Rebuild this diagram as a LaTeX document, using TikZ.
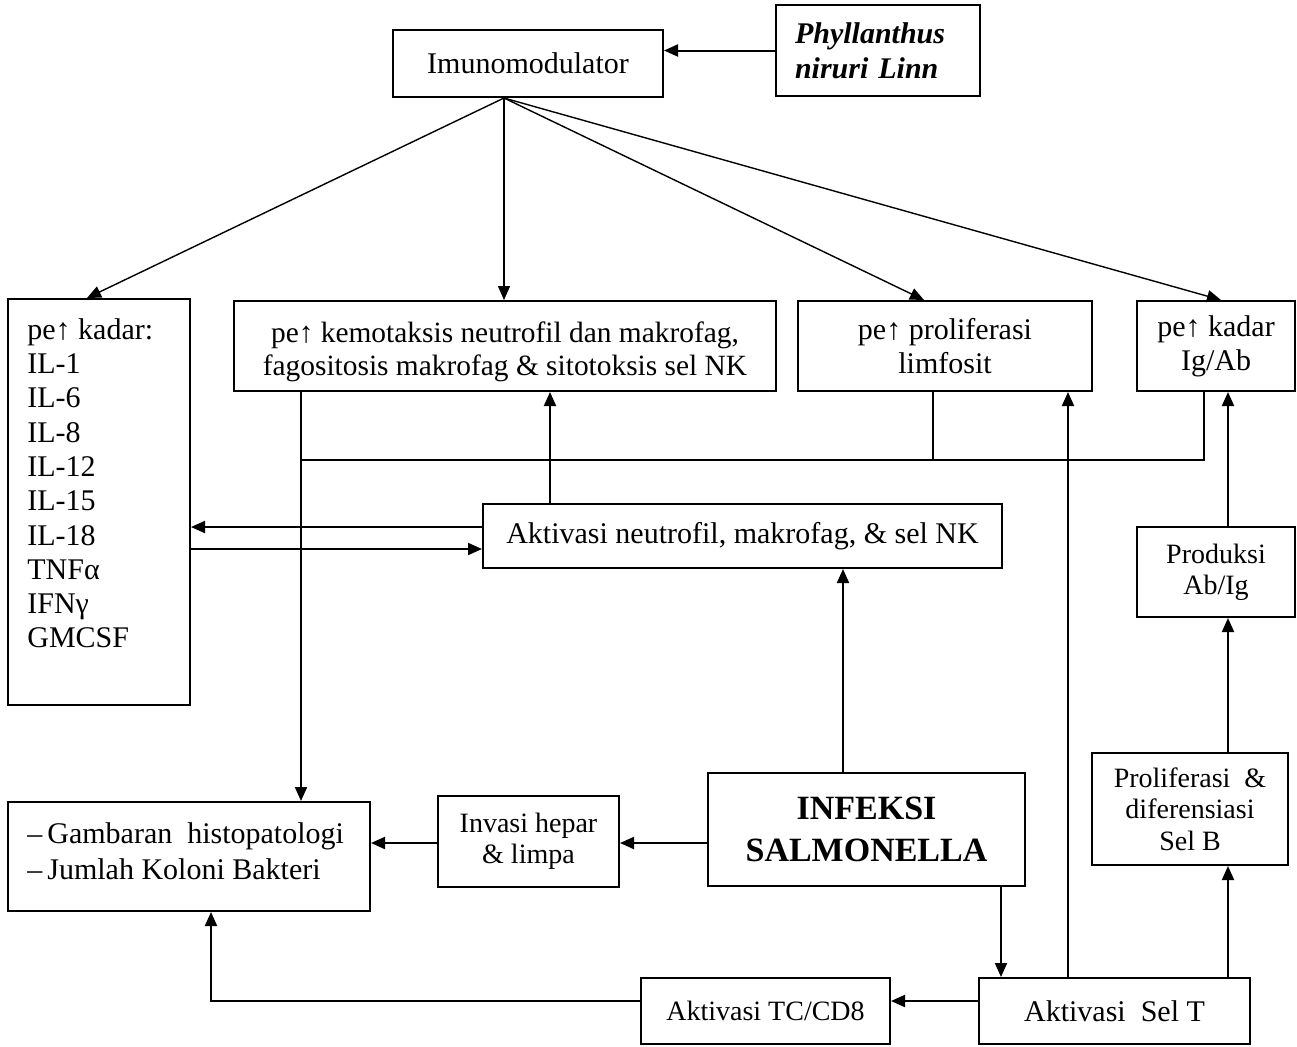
\documentclass[tikz,border=0pt]{standalone}
\usepackage{fontspec}
\setmainfont{Liberation Serif}
\usetikzlibrary{arrows.meta,calc}
\begin{document}
\begin{tikzpicture}[x=0.5pt,y=-0.5pt,
  box/.style={draw, line width=1pt, inner sep=0pt, align=center, font=\fontsize{15}{17}\selectfont},
  small/.style={font=\fontsize{14}{15.7}\selectfont},
  txt/.style={inner sep=0pt, align=left, font=\fontsize{15}{17}\selectfont},
  arr/.style={line width=1pt, -{Triangle[length=7pt,width=6pt]}},
  fanarr/.style={line width=0.7pt, -{Triangle[length=7pt,width=6pt]}},
  ln/.style={line width=1pt}]
\useasboundingbox (0,0) rectangle (1297,1046);

% boxes
\node[box, minimum width=135pt, minimum height=33.5pt] (imun) at (528,63.5) {Imunomodulator};
\node[box, minimum width=102pt, minimum height=45.5pt, align=left, text width=83pt,
      font=\fontsize{15}{17.5}\selectfont\bfseries\itshape] (phyl) at (878,50.5) {\mbox{Phyllanthus}\\\mbox{niruri Linn}};
\node[box, minimum width=91pt, minimum height=203pt] (kad) at (99,502) {};
\node[txt, anchor=north west, font=\fontsize{15}{17.15}\selectfont] (kadt) at ($(kad.north west)+(20,20)$)
  {pe↑ kadar:\\IL-1\\IL-6\\IL-8\\IL-12\\IL-15\\IL-18\\TNFα\\IFNγ\\GMCSF};
\node[box, minimum width=271pt, minimum height=45pt] (kemo) at (505,346) {};
\node[inner sep=0pt, align=center, font=\fontsize{14.7}{16.3}\selectfont] (kemot) at ($(kemo.center)+(0,6)$)
  {pe↑ kemotaksis neutrofil dan makrofag,\\fagositosis makrofag \& sitotoksis sel NK};
\node[box, minimum width=147pt, minimum height=45pt] (limf) at (945,346) {pe↑ proliferasi\\limfosit};
\node[box, minimum width=79pt, minimum height=45pt] (igab) at (1216,346) {pe↑ kadar\\Ig/Ab};
\node[box, minimum width=259.5pt, minimum height=32pt] (aktn) at (742.5,536) {Aktivasi neutrofil, makrofag, \& sel NK};
\node[box, small, minimum width=79pt, minimum height=45pt] (prod) at (1216,572) {Produksi\\Ab/Ig};
\node[box, small, minimum width=98pt, minimum height=56pt] (prol) at (1190,809) {Proliferasi~ \&\\diferensiasi\\Sel B};
\node[box, minimum width=181pt, minimum height=54.5pt] (gamb) at (189,856.5) {};
\node[txt, anchor=west, font=\fontsize{15}{18}\selectfont] (gambt) at ($(gamb.west)+(20,-5)$)
  {–\,Gambaran~ histopatologi\\–\,Jumlah Koloni Bakteri};
\node[box, small, minimum width=90.5pt, minimum height=45.5pt] (inv) at (528.5,841.5) {Invasi hepar\\\& limpa};
\node[box, minimum width=158.5pt, minimum height=56.5pt, font=\fontsize{17}{21}\selectfont\bfseries] (inf) at (866.5,829.5) {INFEKSI\\SALMONELLA};
\node[box, small, minimum width=124.5pt, minimum height=33pt] (tc) at (765.5,1011) {Aktivasi TC/CD8};
\node[box, minimum width=135.5pt, minimum height=33pt] (selt) at (1114.5,1011) {Aktivasi~ Sel T};

% connectors
\draw[arr] (phyl.west) -- (phyl.west -| imun.east);
\coordinate (fan) at ($(imun.south west)+(112,0)$);
\draw[fanarr] (fan) -- ($(kad.north west)+(80,0)$);
\draw[fanarr] (fan) -- (fan |- kemo.north);
\draw[fanarr] (fan) -- ($(limf.north west)+(127,0)$);
\draw[fanarr] (fan) -- ($(igab.north west)+(85,0)$);

\draw[arr] ($(aktn.north west)+(68,0)$) coordinate (t1) -- (t1 |- kemo.south);
\draw[arr] ($(aktn.west)+(0,-9)$) coordinate (t2) -- (t2 -| kad.east);
\draw[arr] ($(kad.east)+(0,47)$) coordinate (t3) -- (t3 -| aktn.west);

\draw[arr] ($(kemo.south west)+(68,0)$) coordinate (a) -- (a |- gamb.north);
\draw[ln] ($(igab.south west)+(68,0)$) coordinate (b) |- ($(a)+(0,68)$);
\draw[ln] ($(limf.south west)+(136,0)$) coordinate (lb) -- ($(lb)+(0,68)$);

\draw[arr] ($(prod.north west)+(92,0)$) coordinate (c) -- (c |- igab.south);
\draw[arr] (c |- prol.north) -- (c |- prod.south);
\draw[arr] (c |- selt.north) -- (c |- prol.south);
\draw[arr] ($(selt.north west)+(90,0)$) coordinate (d) -- (d |- limf.south);

\draw[arr] ($(inf.north west)+(136,0)$) coordinate (e) -- (e |- aktn.south);
\draw[arr] ($(inf.west)+(0,13.5)$) coordinate (f) -- (f -| inv.east);
\draw[arr] (f -| inv.west) -- (f -| gamb.east);
\draw[arr] ($(inf.south west)+(294,0)$) coordinate (g) -- (g |- selt.north);
\draw[arr] ($(selt.west)+(0,-10)$) coordinate (h) -- (h -| tc.east);
\draw[arr] (h -| tc.west) -| ($(gamb.south west)+(204,0)$);
\end{tikzpicture}
\end{document}
